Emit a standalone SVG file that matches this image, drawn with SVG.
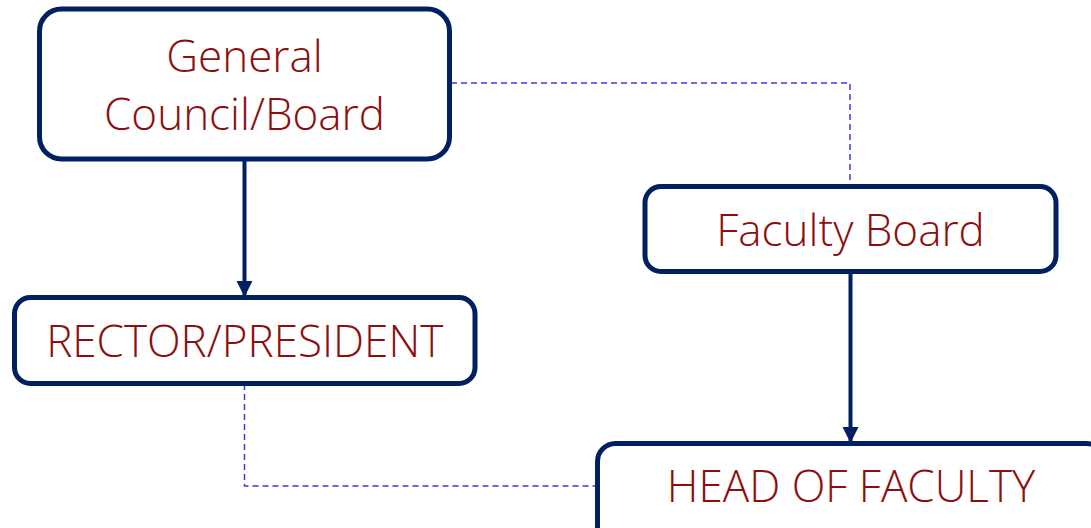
<svg xmlns="http://www.w3.org/2000/svg" width="1091" height="528" viewBox="0 0 1091 528">
<style>
.box{fill:#fff;stroke:#002060;stroke-width:5}
.lbl{font-family:"Open Sans","Liberation Sans",sans-serif;font-weight:300;font-size:44px;fill:#8b0f0f;text-anchor:middle}
.solid{stroke:#002060;stroke-width:4;fill:none}
.dash{stroke:#3a3adf;stroke-width:1.5;fill:none;stroke-dasharray:6 4}
</style>
<defs>
<marker id="ah" markerUnits="userSpaceOnUse" markerWidth="16" markerHeight="18" refX="15" refY="8" orient="auto">
<path d="M0,0 L16,8 L0,16 Z" fill="#002060"/>
</marker>
</defs>
<g id="connectors">
<path class="dash" d="M451,83 H850 V186"/>
<path class="dash" d="M244.5,384 V486 H597"/>
<path class="solid" d="M244.5,159 V296" marker-end="url(#ah)"/>
<path class="solid" d="M850.5,272 V442" marker-end="url(#ah)"/>
</g>
<g id="general-council">
<rect class="box" x="39.5" y="9" width="410" height="150" rx="22"/>
<text class="lbl" x="244.5" y="72">General</text>
<text class="lbl" x="244.5" y="130">Council/Board</text>
</g>
<g id="rector">
<rect class="box" x="14.5" y="297.5" width="460.5" height="86" rx="16"/>
<text class="lbl" x="244.7" y="357">RECTOR/PRESIDENT</text>
</g>
<g id="faculty-board">
<rect class="box" x="645" y="186.5" width="411" height="85" rx="16"/>
<text class="lbl" x="850.5" y="246">Faculty Board</text>
</g>
<g id="head-of-faculty">
<rect class="box" x="597.5" y="443.5" width="507" height="110" rx="18"/>
<text class="lbl" x="851" y="502">HEAD OF FACULTY</text>
</g>
</svg>
